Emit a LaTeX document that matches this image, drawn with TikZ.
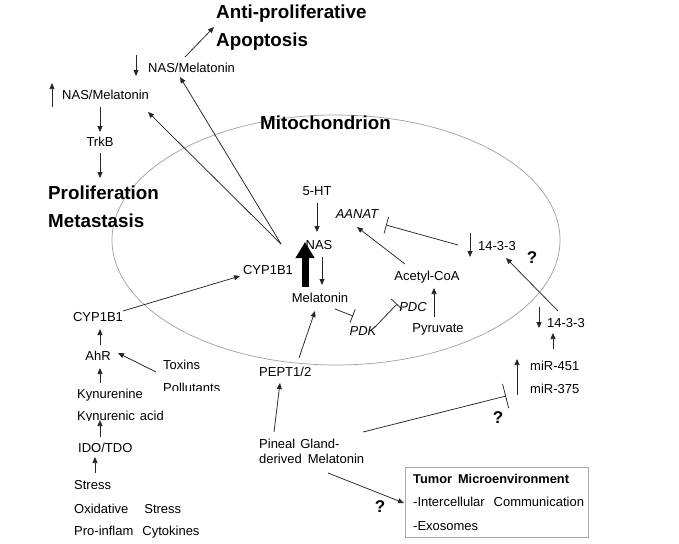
\documentclass[tikz,border=0pt]{standalone}
\usepackage{fontspec}
\setmainfont{Liberation Sans}
\usetikzlibrary{arrows.meta}
\begin{document}
\begin{tikzpicture}[x=1pt,y=-1pt,
 txt/.style={inner sep=0pt, font=\fontsize{13}{15}\selectfont, anchor=west},
 ctxt/.style={inner sep=0pt, font=\fontsize{13}{15}\selectfont},
 itx/.style={inner sep=0pt, font=\fontsize{13}{15}\selectfont\itshape},
 big/.style={inner sep=0pt, font=\fontsize{18.8}{22}\selectfont\bfseries, anchor=west},
 qm/.style={inner sep=0pt, font=\fontsize{17}{20}\selectfont\bfseries},
 arr/.style={draw=black!85, line width=0.75pt, -{Triangle[length=6pt,width=5pt]}},
 inh/.style={draw=black!85, line width=0.75pt, -{Bar[width=#1]}},
 thick arrow/.style={draw=black, line width=7pt, -{Triangle[length=16pt,width=18pt]}},
 ]
\useasboundingbox (0,0) rectangle (679,543);
\fill[white] (0,0) rectangle (679,543);

% mitochondrion
\draw[gray!75, line width=0.7pt] (336,240) ellipse [x radius=224pt, y radius=125pt];
\node[big] (mito) at (260,123) {Mitochondrion};

% upper left outcomes
\node[big] (antiprol) at (216,14) {Anti-proliferative};
\node[big] (apopt) at (216,42) {Apoptosis};
\node[txt] (nasdown) at (148,68) {NAS/Melatonin};
\node[txt] (nasup) at (62,95) {NAS/Melatonin};
\node[ctxt] (trkb) at (100,142) {TrkB};
\node[big] (prolif) at (48,193) {Proliferation};
\node[big] (metast) at (48,221) {Metastasis};

% inside mitochondrion
\node[ctxt] (fiveht) at (317,191) {5-HT};
\node[ctxt] (nas) at (319,245) {NAS};
\node[ctxt] (melin) at (320,298) {Melatonin};
\node[ctxt] (cypin) at (268,270) {CYP1B1};
\node[itx] (aanat) at (357,214) {AANAT};
\node[ctxt] (acoa) at (427,277) {Acetyl-CoA};
\node[ctxt] (pyr) at (438,329) {Pyruvate};
\node[itx] (pdc) at (413,307) {PDC};
\node[itx] (pdk) at (363,331) {PDK};
\node[txt] (in1433) at (478,246) {14-3-3};
\node[qm] (q1) at (532,258) {?};

% right side
\node[txt] (out1433) at (547,323) {14-3-3};
\node[txt] (mir451) at (530,366) {miR-451};
\node[txt] (mir375) at (530,389) {miR-375};
\node[qm] (q2) at (498,418) {?};

% bottom middle
\node[txt] (pept) at (259,372) {PEPT1/2};
\node[txt] (pineal1) at (259,444) {Pineal\hspace{5pt}Gland-};
\node[txt] (pineal2) at (259,459) {derived\hspace{6pt}Melatonin};
\node[qm] (q3) at (380,507) {?};
\node[draw=gray!70, line width=0.8pt, inner sep=0pt, minimum width=183pt, minimum height=70pt, anchor=north west] (tme) at (405,467) {};
\node[txt, font=\fontsize{12.8}{15}\selectfont\bfseries] (tmetitle) at (413,479) {Tumor\hspace{6pt}Microenvironment};
\node[txt] (tme1) at (413,502) {-Intercellular\hspace{9pt}Communication};
\node[txt] (tme2) at (413,526) {-Exosomes};

% bottom left
\node[ctxt] (cypout) at (98,317) {CYP1B1};
\node[ctxt] (ahr) at (98,356) {AhR};
\node[txt] (toxins) at (163,365) {Toxins};
\begin{scope}
 \clip (150,300) rectangle (260,390);
 \node[txt] (pollut) at (163,388) {Pollutants};
\end{scope}
\node[txt] (kyn) at (77,395) {Kynurenine};
\begin{scope}
 \clip (60,400) rectangle (200,420.5);
 \node[txt] (kynacid) at (77,417) {Kynurenic\hspace{5pt}acid};
\end{scope}
\node[txt] (ido) at (78,448) {IDO/TDO};
\node[txt] (stress) at (74,485) {Stress};
\node[txt] (oxstress) at (74,509) {Oxidative\hspace{16pt}Stress};
\node[txt] (proinflam) at (74,532) {Pro-inflam\hspace{9pt}Cytokines};

% connector end points
\coordinate (c1a) at (185,57);  \coordinate (c1b) at (214,27);
\coordinate (src) at (281,244);
\coordinate (tonasup) at (148,112); \coordinate (tonasdown) at (180,77);
\coordinate (cypout-e) at (123,311); \coordinate (cypin-w) at (240,276);
\coordinate (in1433-w) at (458,245); \coordinate (aanat-e) at (386,225);
\coordinate (acoa-n) at (405,264); \coordinate (aanat-s) at (357,227);
\coordinate (pyr-n) at (434,317); \coordinate (acoa-s) at (434,288);
\coordinate (melin-e) at (335,309); \coordinate (pdk-n) at (353,316);
\coordinate (pdk-e) at (375,327); \coordinate (pdc-w) at (397,304);
\coordinate (out1433-n) at (558,311); \coordinate (in1433-s) at (506,258);
\coordinate (mir-n) at (553,349); \coordinate (out1433-s) at (553,333);
\coordinate (pineal-e) at (363,432); \coordinate (mir-w) at (506,396);
\coordinate (pept-n) at (299,358); \coordinate (melin-s) at (315,311);
\coordinate (pineal-n) at (274,432); \coordinate (pept-s) at (280,383);
\coordinate (pineal-s) at (328,473); \coordinate (tme-w) at (404,503);
\coordinate (toxins-w) at (156,372); \coordinate (ahr-e) at (118,353);

% indicator arrows
\draw[arr] (136,55) -- (136,76);
\draw[arr] (52,107) -- (52,83);
\draw[arr] (470,233) -- (470,257);
\draw[arr] (539,307) -- (539,328);
\draw[arr] (517,395) -- (517,359);

% connectors
\draw[arr] (c1a) -- (c1b);
\draw[arr] (nasup.south -| trkb) ++(0,7) -- ([yshift=5pt]trkb.north);
\draw[arr] ([yshift=-6pt]trkb.south) -- (100,178);
\draw[arr] (src) -- (tonasup);
\draw[arr] (src) -- (tonasdown);
\draw[arr] ([yshift=-7pt]fiveht.south) -- (317,232);
\draw[arr] (322,257) -- (322,285);
\draw[thick arrow] (305,287) -- (305,242);
\draw[arr] (cypout-e) -- (cypin-w);
\draw[inh=17pt] (in1433-w) -- (aanat-e);
\draw[arr] (acoa-n) -- (aanat-s);
\draw[arr] (pyr-n) -- (acoa-s);
\draw[inh=14pt] (melin-e) -- (pdk-n);
\draw[inh=15pt] (pdk-e) -- (pdc-w);
\draw[arr] (out1433-n) -- (in1433-s);
\draw[arr] (mir-n) -- (out1433-s);
\draw[inh=25pt] (pineal-e) -- (mir-w);
\draw[arr] (pept-n) -- (melin-s);
\draw[arr] (pineal-n) -- (pept-s);
\draw[arr] (pineal-s) -- (tme-w);
\draw[arr] (100,345) -- (100,329);
\draw[arr] (toxins-w) -- (ahr-e);
\draw[arr] (100,383) -- (100,368);
\draw[arr] (100,437) -- (100,420);
\draw[arr] (95,473) -- (95,457);
\end{tikzpicture}
\end{document}
